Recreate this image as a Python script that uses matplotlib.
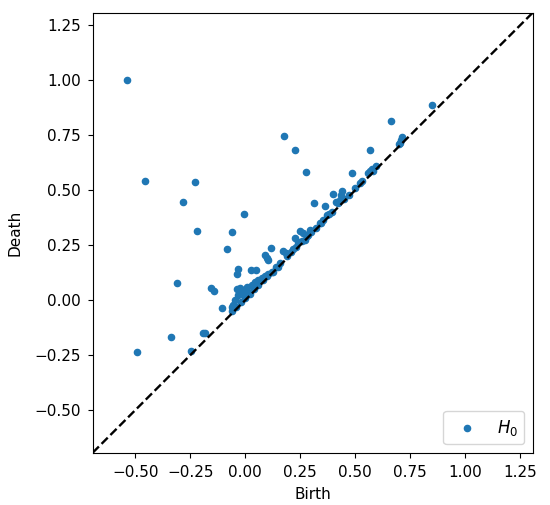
import numpy as np
import matplotlib
matplotlib.use("Agg")
import matplotlib.pyplot as plt

# H0 persistence pairs (birth, death)
birth = [
    -0.54, 0.177, 0.227, 0.276, -0.455, -0.229, -0.285, -0.005, -0.221, -0.059,
    -0.084, 0.117, -0.312, -0.155, -0.142, -0.106, -0.338, -0.191, -0.182, -0.492,
    -0.247, 0.484, 0.662, 0.850, 0.567, 0.312, 0.362, 0.400, 0.441, 0.438,
    0.473, 0.415, 0.430, 0.575, 0.567, 0.559, 0.597, 0.521, 0.715, 0.708,
    0.703, 0.397, 0.370, 0.355, 0.347, 0.249, 0.261, 0.226, 0.294, 0.241,
    0.271, 0.287, 0.090, 0.097, 0.105, 0.173, 0.184, -0.035, -0.039, 0.025,
    0.047, 0.218,
    -0.039, -0.024, -0.009, 0.006, 0.014, -0.031, -0.016, -0.001, -0.047, -0.055,
    -0.062, 0.029, 0.044, 0.059, 0.075, 0.090, 0.105, 0.127, 0.150,
    -0.060, -0.040, -0.020, 0.000, 0.020, 0.040, 0.060, 0.080, 0.100, 0.120,
    0.140, 0.160, 0.190, 0.210, 0.230, 0.260, 0.280, 0.300, 0.320, 0.340,
    0.380, 0.420, 0.450, 0.500, 0.530, 0.580, 0.700,
]
death = [
    1.000, 0.745, 0.685, 0.582, 0.541, 0.536, 0.447, 0.392, 0.315, 0.308,
    0.232, 0.239, 0.080, 0.055, 0.042, -0.036, -0.167, -0.149, -0.151, -0.235,
    -0.232, 0.580, 0.814, 0.886, 0.685, 0.442, 0.427, 0.482, 0.497, 0.477,
    0.480, 0.447, 0.458, 0.599, 0.588, 0.579, 0.609, 0.533, 0.742, 0.727,
    0.715, 0.401, 0.386, 0.364, 0.351, 0.315, 0.306, 0.285, 0.318, 0.265,
    0.273, 0.295, 0.205, 0.190, 0.182, 0.223, 0.215, 0.144, 0.121, 0.136,
    0.136, 0.235,
    0.053, 0.056, 0.045, 0.060, 0.038, 0.023, 0.030, 0.015, 0.000, -0.023,
    -0.030, 0.068, 0.083, 0.091, 0.099, 0.110, 0.117, 0.129, 0.152,
    -0.050, -0.030, -0.010, 0.010, 0.030, 0.050, 0.070, 0.090, 0.110, 0.130,
    0.150, 0.170, 0.200, 0.220, 0.240, 0.270, 0.290, 0.310, 0.330, 0.350,
    0.390, 0.440, 0.460, 0.510, 0.540, 0.590, 0.710,
]

birth = np.array(birth)
death = np.array(death)

plt.rcParams["font.size"] = 11

fig = plt.figure(figsize=(5.5, 5.05), dpi=100)
ax = fig.add_axes([92.7 / 550, 52.3 / 505, 440 / 550, 440 / 505])

allv = np.concatenate([birth, death])
ax_min, ax_max = allv.min(), allv.max()
x_r = ax_max - ax_min
buffer = x_r / 5
x_down = ax_min - buffer / 2
x_up = ax_max + buffer

ax.plot([x_down, x_up], [x_down, x_up], "--", c="k", lw=1.7)
ax.scatter(birth, death, s=20, color="C0", label="$H_0$")
ax.set_xlim(x_down, x_up)
ax.set_ylim(x_down, x_up)
ax.set_aspect("equal", "box")
ax.tick_params(labelsize=11, pad=5)
ax.set_xlabel("Birth", fontsize=11, labelpad=5.5)
ax.set_ylabel("Death", fontsize=11, labelpad=8.5)
ax.legend(loc="lower right", fontsize=12)

fig.savefig("out.png", dpi=100)
